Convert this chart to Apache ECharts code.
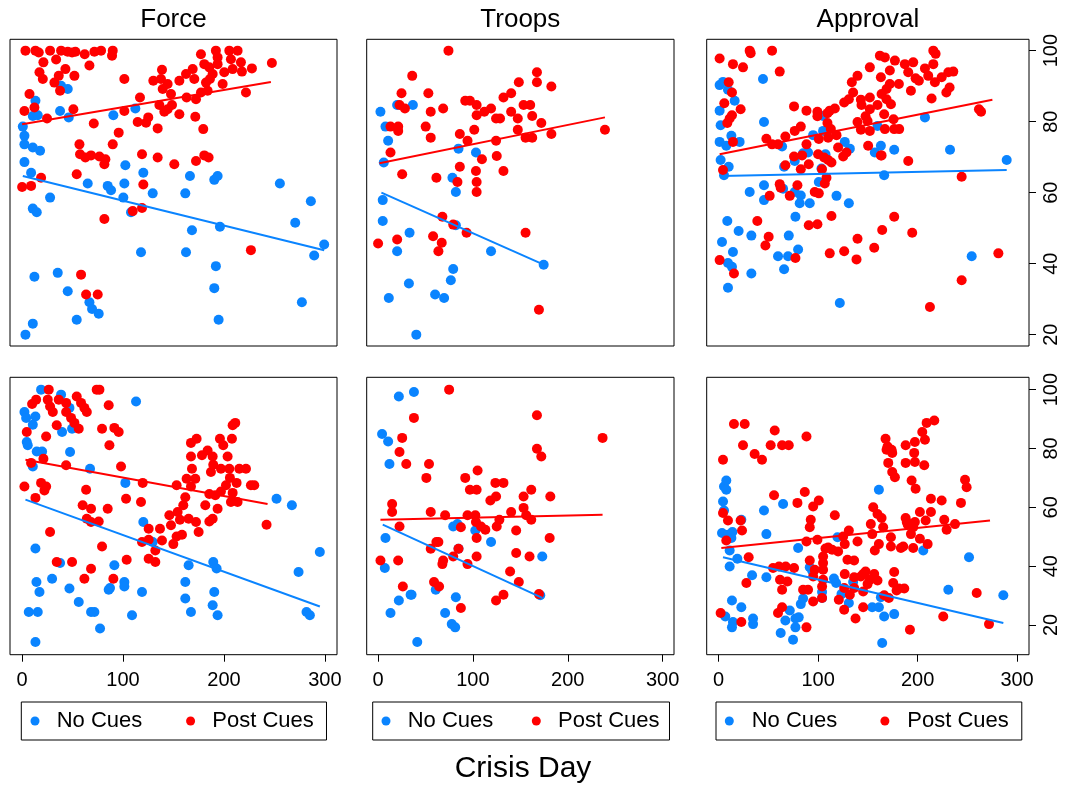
<!DOCTYPE html>
<html>
<head>
<meta charset="utf-8">
<title>Crisis Day scatter panels</title>
<script src="https://cdn.jsdelivr.net/npm/echarts@6/dist/echarts.min.js"></script>
<style>
  html, body { margin: 0; padding: 0; background: #fff; }
  #chart { width: 1066px; height: 785px; }
</style>
</head>
<body>
<div id="chart"></div>
<script>
// ---- tick labels and names ----
const xTicks = [0, 100, 200, 300];
const yTicks = [20, 40, 60, 80, 100];
const panelTitles = ['Force', 'Troops', 'Approval'];
const groupNames = ['No Cues', 'Post Cues'];
const axisTitle = 'Crisis Day';

// ---- upper row: Force ----
const forceUpperNo = [[38.6,90.1],[45.2,89.2],[13.2,85.9],[10.6,81.6],[15.5,81.8],[37.6,83],[46.2,81.2],[90.4,81.8],[112.2,83.7],[0.7,78.6],[2.3,76],[2.3,73.6],[10.6,72.7],[17.8,71.8],[2.3,68.6],[8.9,65.6],[27.7,58.6],[10.6,55.5],[14.5,54.5],[65,62.6],[84.8,61.9],[88.1,60.7],[101.3,62.6],[102.3,67.7],[120.1,65.6],[100.3,58.6],[107.9,54.5],[129.4,59.8],[161.7,59.8],[166.3,64.7],[190.4,63.6],[193.7,64.7],[255.4,62.6],[286.1,57.6],[270.6,51.5],[299.3,45.4],[289.4,42.3],[168.3,49.4],[196,50.4],[117.8,43.2],[162.4,43.2],[192,39.3],[190.4,33.1],[277.2,29.1],[194.7,24.2],[12.2,36.3],[35.3,37.4],[45.2,32.2],[66.7,29.1],[69.3,27.2],[75.9,25.9],[54.1,24.2],[10.6,23.1],[3.3,20]];
const forceUpperPost = [[3.3,100],[13.2,100],[16.5,99.5],[27.7,100],[38.6,100],[45.2,99.7],[49.5,99.5],[52.8,99.7],[62,99],[71.6,99.7],[78.2,100],[89.8,100],[89.1,98.6],[21.1,96.7],[33.7,97.5],[42.9,94.8],[66.7,95.8],[17.2,93.9],[20.5,92],[36.3,92.9],[51.8,92.9],[32,91],[37.6,88.7],[101.3,92],[7.3,87.8],[12.2,84],[2.3,83],[24.7,80.9],[50.8,83.5],[71,79.5],[95.7,76.9],[89.8,73.6],[56.8,73.6],[57.4,70.8],[62.7,69.9],[68.3,70.5],[76.6,70.2],[82.5,69.4],[81.5,68],[54.1,65.2],[18.8,64.2],[8.9,61.9],[0,61.6],[81.5,52.6],[101.3,83],[116.8,86.8],[114.5,79.9],[122.8,79.7],[125,81.2],[134.3,78.1],[118.8,70.8],[134.3,69.9],[120.1,62.3],[150.8,68],[172.3,68.9],[180.5,70.5],[184.8,69.9],[109.6,54.8],[118.8,55.7],[226.7,43.8],[58.4,36.9],[63.4,31.3],[74.9,31.3],[179.5,77.9],[171.6,81.4],[155.8,82.1],[144.2,83.5],[136,84.7],[140.9,82.8],[148.5,84.7],[147.5,87.8],[163,86.8],[172.3,86.3],[177.2,88.2],[183.8,88.7],[198.7,90.6],[221.8,88.2],[130,91.5],[137.6,92],[138.6,94.6],[144.2,90.6],[139.3,89.2],[155.8,91.5],[162.4,93.4],[169,94.8],[170.6,92],[177.2,99],[180.5,96.2],[185.5,95.3],[192,100],[193.7,98.1],[193.7,96.2],[188.8,93.4],[182.2,91],[200.3,93.9],[205.3,100],[213.5,100],[206.9,97.6],[208.6,94.8],[216.8,96.7],[217.8,94.1],[227.7,95],[247.5,96.5],[186.1,92]];
const forceUpperNoFit = [[0.7,64.7],[299.3,43.8]];
const forceUpperPostFit = [[0,79.3],[246.5,91.2]];

// ---- upper row: Troops ----
const troopsUpperNo = [[2.5,82.8],[20.1,84.7],[36.7,84.7],[7.8,78.6],[10.6,74.6],[6,68.5],[84.8,72.4],[103.2,71.3],[78.4,64.2],[82,60.2],[4.9,57.9],[4.9,52],[33.2,48.7],[82,50.8],[20.1,43.5],[119.1,43.5],[174.6,39.7],[79.2,38.5],[76.7,35.3],[32.5,34.4],[11.3,30.3],[60.1,31.3],[69.6,30.3],[40.3,20]];
const troopsUpperPost = [[74.2,100],[36,92.9],[24.7,88],[53,88],[22.6,84.7],[28.3,83.7],[55.5,82.8],[68.6,83.7],[13.1,78.6],[21.2,78.6],[21.2,77.4],[50.2,78.6],[55.5,75.5],[13.1,71.3],[25.4,65.2],[61.5,64.2],[91.9,85.9],[96.8,85.9],[103.9,84.7],[103.9,81.8],[112,82.8],[119.1,83.7],[124.4,80.9],[128.6,80.9],[132.2,86.8],[140.3,88],[148.4,91.1],[167.5,93.9],[167.5,91.1],[182.7,89.9],[153.4,84.7],[160.4,84.7],[140.3,82.8],[147.3,80.9],[162.5,81.6],[172.1,79.6],[147.3,77.7],[155.5,75.5],[162.5,75.5],[182.7,76.5],[239.2,77.7],[101.4,77.7],[86.2,76.5],[94.3,74.6],[124.4,74.6],[125.1,70.3],[109.5,69.4],[132.2,66.1],[86.2,67.3],[103.2,66.1],[83.7,63],[103.9,63],[103.9,60.2],[67.8,53.2],[79.2,51],[93.3,48.7],[58,47.7],[67.1,45.9],[63.6,43.5],[20.1,46.8],[0,45.7],[155.5,48.7],[169.6,27]];
const troopsUpperNoFit = [[3.5,60],[174.6,39.7]];
const troopsUpperPostFit = [[1.4,68.3],[239.2,81.2]];

// ---- upper row: Approval ----
const approvalUpperNo = [[1,90.3],[4.4,91.2],[44.6,92],[9.4,89],[16.1,85.9],[1,83.1],[2,79],[45.6,79.9],[12.8,76],[21.1,74.3],[1,74.3],[7.7,73.2],[63.8,73],[2,69.2],[10.1,67.3],[5.4,64.9],[65.8,67.3],[76.5,68.9],[84.9,71.1],[89.9,71.3],[95,76.2],[105,77.4],[105,81.6],[107.4,70.8],[103.4,66.8],[100.7,63],[126.8,74.3],[131.9,72.4],[157,71.3],[163.1,73.2],[176.5,72.1],[159.7,78.8],[207.4,81.2],[232.6,72.1],[289.6,69.2],[166.4,64.9],[31.2,60.2],[45.6,62.1],[45.6,57.9],[64.8,61.1],[76.5,60.2],[82.6,59.2],[81.5,57],[91.6,57],[118.5,59.1],[130.9,57],[8.7,52],[20.1,49.2],[3.4,46.1],[32.9,47.9],[70.5,47.9],[77.2,53.2],[79.9,44],[59.7,42.1],[69.8,42.1],[65.8,38.4],[14.4,43.3],[9.4,40.2],[13.4,39.1],[32.9,37.2],[9.4,33.2],[121.8,28.9],[254.4,42.1]];
const approvalUpperPost = [[1,97.8],[14.4,96.2],[24.5,95.3],[31.2,100],[32.2,99.3],[53.7,100],[61.4,94.1],[10.1,91.1],[13.4,88.2],[5.7,85.2],[22.1,83.5],[13.4,81.8],[11.1,80.9],[8.7,79.6],[14.4,74.3],[4.4,66.4],[1,41],[15.4,37.2],[48,75.2],[53.7,73.6],[59.7,73.6],[67.1,75.8],[75.8,84.3],[76.5,77.4],[82.6,78.6],[88.3,83.1],[88.3,73.6],[99.3,82.8],[99.3,81.5],[100.7,75.1],[109.4,82.4],[111.7,83.1],[116.8,83.7],[109.4,79.6],[112.8,77.9],[110.1,75.5],[118.5,76.2],[120.1,72.7],[125.2,70.2],[128.5,71.3],[126.2,85.4],[130.9,86.3],[135.2,88.2],[133.9,91.1],[139.6,92.9],[143,86.2],[143.6,84.7],[139.6,79.9],[143,77.7],[152,77.4],[149.7,80.2],[147.7,81.5],[152,83.5],[152,86.8],[152,95.3],[162.1,98.6],[167.1,98.1],[163.1,92.5],[159.7,84.7],[163.8,87.8],[168.8,89.2],[172.1,90.6],[168.8,86.3],[173.2,84.9],[166.4,82.1],[167.1,77.9],[175.8,80.7],[176.5,77.9],[181.5,77.9],[172.1,94.4],[177.2,97.2],[181.2,90.6],[187.2,96.2],[190.6,93.9],[193.3,88.7],[195.6,96.7],[198,92.2],[201.3,91.5],[207.4,95],[210.7,92.9],[215.8,100],[218.1,99.1],[215.8,96.2],[217.4,91.1],[224.2,92.5],[228.9,88.2],[232.2,89.6],[230.9,93.9],[235.9,94.1],[214.1,86.5],[261.7,83.5],[263.8,82.8],[150.3,73.2],[163.1,70.5],[190.6,68.9],[244.3,64.5],[281.2,42.9],[244.3,35.3],[212.4,27.8],[75.8,70.2],[83.9,70.5],[90.6,68],[82.6,66.6],[100,70.8],[106,69.9],[110.1,69.2],[113.4,68.5],[103.9,66.6],[108.4,64.2],[106.7,62.6],[96.6,60.2],[100.7,59.8],[79.2,62.1],[67.1,67.7],[61.4,62.4],[62.4,61.4],[71.5,59.1],[51.3,59.1],[113.4,53.4],[90.6,50.8],[99.3,51.1],[38.9,52],[50.3,47.6],[47,45.1],[77.2,41.6],[111.7,42.9],[126.2,43.5],[138.6,41.2],[139.6,47],[156.4,44.5],[164.4,49.5],[176.5,53.2],[194.6,48.7],[163.8,70.5]];
const approvalUpperNoFit = [[2.7,64.7],[289.6,66.4]];
const approvalUpperPostFit = [[1,70.8],[275.2,86.2]];

// ---- lower row: Force ----
const forceLowerNo = [[18.8,100],[38.6,98.3],[46.9,93.8],[2.3,92.4],[4,90.4],[13.2,90.9],[10.6,88.1],[49.5,86.7],[39.6,85.6],[112.9,96],[4.6,82.2],[5.6,81.1],[14.5,79],[19.8,79],[47.5,78.8],[10.6,73.9],[67.3,73.1],[102.3,68.3],[120.1,55],[129.4,48.2],[13.2,46],[37.6,41.1],[29.7,35.7],[14.2,34.6],[17.2,31.2],[46.9,32.4],[56.1,27.8],[68.3,24.4],[71.6,24.4],[6.6,24.4],[15.5,24.4],[13.2,14.2],[77.2,18.8],[91.4,40.3],[87.1,32.6],[85.8,32],[101.3,34.6],[101.3,33.1],[108.9,23.3],[118.8,31.2],[165,40.3],[161.7,34.6],[161.7,29],[167.3,24.4],[189.4,41.4],[192.7,39.2],[190.4,31.2],[188.8,26.7],[193.7,23.3],[252.1,62.9],[267.3,60.7],[273.9,38],[295,44.8],[281.8,24.4],[285.1,23.3]];
const forceLowerPost = [[26.4,100],[73.9,100],[76.6,100],[13.9,96.6],[9.9,95.1],[25.4,96.6],[27.7,94.3],[30.4,92.4],[36.3,96.6],[43.6,95.5],[54.1,97.7],[58.4,95.5],[61.7,93.8],[64.1,92.4],[43.6,92.4],[48.5,90.4],[51.8,88.7],[56.1,86.7],[34.3,87.9],[85.8,94.7],[79.2,86.7],[91.4,87],[95.7,85.6],[86.5,81.1],[4.6,85.6],[23.8,84.1],[21.1,76.5],[8.9,75.1],[43.6,74.3],[98,73.9],[2.3,67.1],[18.8,68.3],[23.8,67.1],[22.1,65.7],[13.2,63.2],[63.4,66],[60,60.7],[68.3,59.5],[64.1,56.1],[68.3,55],[75.9,55.2],[84.8,59.5],[103,62.9],[117.8,61.8],[119.5,68.3],[27.7,51.6],[79.2,46.7],[34.3,41.4],[49.5,41.4],[68.3,39.1],[61.7,35.7],[90.4,35.7],[103.6,42.2],[118.8,48.2],[125.4,52.7],[125.4,49],[125.4,42.5],[132,41.4],[132,45.3],[136.6,52.7],[138.6,48.7],[145.9,57.3],[147.5,53.9],[149.8,47.5],[153.1,50.1],[153.1,67.5],[154.1,58.4],[156.4,55.8],[158.4,50.7],[159.7,60.7],[161.7,63.4],[163,69.7],[165,56.1],[167.3,67.1],[168.3,73.1],[167.3,77.3],[167.3,81.9],[172.9,83.3],[171.6,69.7],[172.3,55],[174.9,51.6],[181.5,60.7],[183.8,79.3],[188.8,77.3],[189.4,74.5],[187.1,72],[185.5,64.5],[185.5,55.2],[188.8,56.1],[191.4,64.1],[193.7,59.5],[196,83.3],[197,65.4],[199.3,81.1],[202,67.5],[203.6,77.3],[205.3,73.1],[205.9,70],[207.9,83.3],[208.6,87.9],[211.2,88.7],[208.6,64.9],[206.9,61.8],[212.5,68.3],[213.5,61.8],[215.2,73.1],[221.8,73.1],[226.7,67.5],[230,67.5],[242.2,54.1],[197,73.1],[178.2,77.7]];
const forceLowerNoFit = [[3.3,62.6],[295,26.3]];
const forceLowerPostFit = [[3.3,76.2],[243.2,61.1]];

// ---- lower row: Troops ----
const troopsLowerNo = [[21.9,97.7],[37.8,99.2],[4.2,84.9],[10.6,82.4],[12,74.7],[79.2,53.5],[83.7,54.3],[102.5,52.1],[119.1,48.2],[7.8,49.6],[7.1,39.4],[84.8,45.9],[173.1,43.3],[60.8,32],[34.3,30.3],[35.3,30.3],[82,29.4],[21.9,28.3],[13.1,24.1],[70.7,24.1],[77.7,20.3],[81.3,19.2],[41.3,14.2],[171,30.1]];
const troopsLowerPost = [[74.9,100],[37.8,90.4],[167.5,91.3],[236.7,83.6],[25.4,83.6],[22.6,78.8],[29.7,74.7],[53.7,74.7],[50.9,70],[167.5,79.9],[172.1,77.3],[104.9,72.5],[91.9,70],[96.8,66],[103.9,66],[123.7,68.3],[132.2,68.3],[124.4,63.7],[118.4,62.3],[153.4,63.7],[161.5,66],[181.6,63.7],[14.8,61.1],[14.8,58.4],[55.5,58.4],[70.7,57.3],[94.3,57.3],[102.5,57.3],[103.2,55],[108.5,53.5],[113.1,52.4],[125.1,53.5],[127.9,55.8],[140.3,58.4],[153.4,59.8],[156.2,57.3],[161.5,55.8],[145.6,52.1],[22.6,53.5],[87.3,53.2],[103.9,49.6],[180.9,49.6],[55.5,45.9],[61.5,48.2],[63.6,48.2],[84.8,45.9],[79.2,43.3],[68.6,41.9],[67.8,40.7],[94.3,40.7],[103.9,43.3],[145.6,44.5],[159.7,43.3],[2.5,41.9],[21.2,41.9],[139.2,38.2],[148.4,34.6],[59,34.6],[64.3,33.1],[26.1,33.1],[132.2,30.3],[124.4,28.3],[87.3,25.8],[169.6,30.5]];
const troopsLowerNoFit = [[4.9,54.1],[173.1,29.2]];
const troopsLowerPostFit = [[2.5,55.8],[236.7,57.5]];

// ---- lower row: Approval ----
const approvalLowerNo = [[5.4,67.1],[7.7,69.1],[4.4,62],[5.4,58.9],[3.4,51.3],[7.7,66],[9.4,50.7],[13.8,51.6],[12.8,49.6],[11.1,45.3],[18.8,42.5],[11.1,39.9],[22.8,55.8],[45.6,58.9],[48,50.9],[64.8,61.1],[79.9,46.2],[161.1,66],[119.5,49.8],[205.7,45.3],[251.7,43],[230.9,32],[286.2,30.1],[33.6,36.9],[48,36.2],[13.4,28.3],[22.8,26],[6.7,22.9],[14.4,21],[13.4,19.2],[34.6,22.2],[34.6,20.3],[62.4,17.3],[74.8,15],[67.1,21.5],[71.5,24.9],[77.2,22.2],[77.2,19.2],[80.5,22.6],[82.6,27.1],[84.9,29],[91.6,39.6],[94,38.5],[95,38],[104,31.2],[104,29.2],[115.9,35.8],[118.1,34.3],[123.5,30.5],[130.9,27.5],[135.2,34.6],[154.4,26],[161.1,26],[166.4,22.9],[176.5,23.7],[164.4,13.9],[163.1,29.4]];
const approvalLowerPost = [[15.4,88.3],[26.2,88.3],[4.4,76.2],[24.5,81.1],[36.2,78.1],[43.6,76.2],[56.4,86.1],[52.3,81.1],[63.8,81.1],[70.5,81.1],[88.3,84.1],[55.7,64.1],[86.6,65.2],[79.2,61.5],[100.7,62.3],[95,60.3],[116.8,57.3],[92.6,55.8],[91.6,53.2],[4.4,58.1],[9.4,55.5],[22.1,55.5],[23.5,52.1],[7.7,48.7],[30.2,43],[27.9,34.3],[22.8,21],[2,24.1],[88.3,48.4],[99.3,49],[107.4,46],[105,43.3],[105,41.1],[105,38.8],[105,35.4],[104,33.1],[104,29.2],[96.6,38.8],[95,36.5],[91.6,41.9],[89.9,32],[84.9,32],[95,28],[88.3,19.2],[54.7,39.4],[60.7,39.9],[67.4,39.9],[75.8,39.4],[61.7,35.4],[69.1,34.8],[63.8,32],[59.7,24.1],[63.8,26],[110.1,46.3],[114.1,45.6],[120.1,45],[125.2,50.1],[126.8,47.5],[130.9,52.1],[139.6,48.4],[129.5,42.2],[126.8,37.3],[126.2,32.6],[120.8,28.6],[126.2,25.2],[131.9,30.3],[136.2,32.6],[136.2,41.9],[136.2,36.2],[142.9,36.5],[137.6,22.2],[145.3,37.3],[147.7,38.2],[145.3,31.4],[145.3,26],[149.7,33.9],[152,35.4],[156.4,37.3],[159.7,35.1],[153,54.3],[155.4,60],[159.7,57.7],[154.4,50.9],[157,45.3],[161.1,47.5],[163.8,56.4],[165.4,53.2],[167.8,83.3],[168.8,79.6],[169.8,80.7],[170.5,75.1],[173.8,79.6],[174.5,78.5],[173.2,49.8],[173.2,46.7],[174.5,72],[177.2,70.2],[175.5,34.3],[176.5,38],[166.4,30.1],[171.1,29.2],[178.9,31.7],[181.2,32.4],[186.6,32.4],[183.2,46.2],[185.6,46.7],[188,56.4],[189.1,55],[190.1,54.1],[193.3,50.9],[195.6,46.2],[195.6,53.2],[197.3,55],[188,81.1],[188,75.1],[192.3,18.4],[194,69.1],[198,66.3],[197.3,82.2],[196.6,78.5],[197.3,75.4],[204.7,85.6],[207.4,83],[206.7,74.3],[208.1,55.5],[210.1,47.5],[202.3,58.4],[202.3,49.3],[209.1,88.7],[216.8,89.5],[213.4,62.9],[213.4,58.4],[224.2,62.3],[226.8,55.8],[229.2,52.4],[225.8,22.9],[243.6,61.5],[237.6,54.3],[247.7,69.4],[249.3,66.8],[259.4,30.9],[271.8,20.3]];
const approvalLowerNoFit = [[4.4,43],[286.2,20.7]];
const approvalLowerPostFit = [[2.7,46.2],[272.8,55.5]];

// ---- panel grouping (row-major) ----
const panels = [
  { no: forceUpperNo, post: forceUpperPost, noFit: forceUpperNoFit, postFit: forceUpperPostFit },
  { no: troopsUpperNo, post: troopsUpperPost, noFit: troopsUpperNoFit, postFit: troopsUpperPostFit },
  { no: approvalUpperNo, post: approvalUpperPost, noFit: approvalUpperNoFit, postFit: approvalUpperPostFit },
  { no: forceLowerNo, post: forceLowerPost, noFit: forceLowerNoFit, postFit: forceLowerPostFit },
  { no: troopsLowerNo, post: troopsLowerPost, noFit: troopsLowerNoFit, postFit: troopsLowerPostFit },
  { no: approvalLowerNo, post: approvalLowerPost, noFit: approvalLowerNoFit, postFit: approvalLowerPostFit }
];

// ---- layout and style ----
const FONT = "'Liberation Sans', Arial, Helvetica, sans-serif";
const BLUE = '#0a84ff';
const RED = '#ff0000';
const colLeft = [10, 366.7, 706.7];
const colWidth = [327, 307.3, 322.3];
const rowTop = [39.3, 377.3];
const rowHeight = [306.7, 277.4];
const xRange = [-12, 312];
const yRange = [[16.8, 103.2], [9.9, 104.2]];
const legendLayout = [
  { left: 21.3, padding: [7, 12.7, 7, 9.2], gap: 43.8, textPad: 12.2 },
  { left: 372.7, padding: [7, 10, 7, 8.8], gap: 38.5, textPad: 12.2 },
  { left: 716, padding: [7, 13, 7, 8.8], gap: 43.1, textPad: 12.9 }
];

const grids = [], xAxes = [], yAxes = [], series = [];
panels.forEach((p, i) => {
  const row = Math.floor(i / 3), col = i % 3;
  grids.push({
    left: colLeft[col], top: rowTop[row], width: colWidth[col], height: rowHeight[row],
    show: true, borderColor: '#000', borderWidth: 1, backgroundColor: 'transparent',
    outerBoundsMode: 'none', containLabel: false
  });
  const showX = row === 1;
  xAxes.push({
    type: 'value', gridIndex: i, position: 'bottom', min: xRange[0], max: xRange[1],
    splitLine: { show: false }, axisLine: { show: false, onZero: false },
    axisTick: { show: showX, customValues: xTicks, length: 7, inside: false, lineStyle: { color: '#000', width: 1 } },
    axisLabel: { show: showX, customValues: xTicks, margin: 16, fontSize: 20, color: '#000', fontFamily: FONT }
  });
  const showY = col === 2;
  yAxes.push({
    type: 'value', gridIndex: i, position: 'right', min: yRange[row][0], max: yRange[row][1],
    splitLine: { show: false }, axisLine: { show: false, onZero: false },
    axisTick: { show: showY, customValues: yTicks, length: 7, inside: false, lineStyle: { color: '#000', width: 1 } },
    axisLabel: { show: showY, customValues: yTicks, margin: 12, rotate: 90, fontSize: 20, color: '#000', fontFamily: FONT }
  });
  const scatter = (name, data, color, z) => ({
    name, type: 'scatter', xAxisIndex: i, yAxisIndex: i, data, z,
    symbol: 'circle', symbolSize: 10,
    itemStyle: { color, opacity: 1, borderWidth: 0 },
    emphasis: { disabled: true }, silent: true, animation: false
  });
  const fit = (name, data, color, z) => ({
    name, type: 'line', xAxisIndex: i, yAxisIndex: i, data, z,
    symbol: 'none', lineStyle: { color, width: 2 },
    emphasis: { disabled: true }, silent: true, animation: false
  });
  series.push(scatter(groupNames[0], p.no, BLUE, 2));
  series.push(scatter(groupNames[1], p.post, RED, 3));
  series.push(fit(groupNames[0] + ' fit', p.noFit, BLUE, 4));
  series.push(fit(groupNames[1] + ' fit', p.postFit, RED, 5));
});

const legends = legendLayout.map(l => ({
  data: groupNames, left: l.left, top: 702, orient: 'horizontal',
  padding: l.padding, itemGap: l.gap, itemWidth: 9, itemHeight: 9, icon: 'circle',
  borderColor: '#000', borderWidth: 1, backgroundColor: '#fff', selectedMode: false,
  textStyle: { fontSize: 22, color: '#000', fontFamily: FONT, lineHeight: 24, padding: [0, 0, 0, l.textPad] }
}));

const titleText = panelTitles.map((t, c) => ({
  type: 'text', x: colLeft[c] + colWidth[c] / 2, y: 20,
  style: { text: t, align: 'center', verticalAlign: 'middle', font: '26px ' + FONT, fill: '#000' }
}));
titleText.push({
  type: 'text', x: 523, y: 769,
  style: { text: axisTitle, align: 'center', verticalAlign: 'middle', font: '30px ' + FONT, fill: '#000' }
});

const chart = echarts.init(document.getElementById('chart'), null, { renderer: 'canvas', width: 1066, height: 785 });
chart.setOption({
  backgroundColor: '#fff',
  animation: false,
  grid: grids,
  xAxis: xAxes,
  yAxis: yAxes,
  legend: legends,
  graphic: titleText,
  series
});
</script>
</body>
</html>
